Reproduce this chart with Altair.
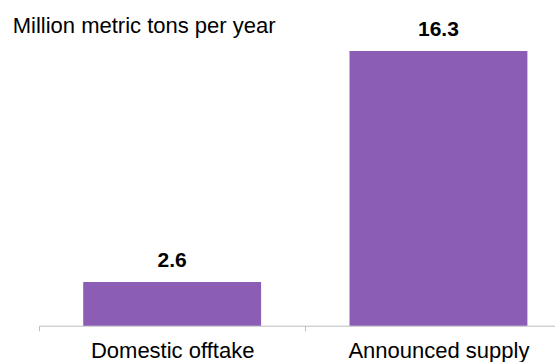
import altair as alt
import pandas as pd

# Chart data
categories = ["Domestic offtake", "Announced supply"]
values = [2.6, 16.3]
unit_label = "Million metric tons per year"

BAR_COLOR = "#8B5DB5"
AXIS_COLOR = "#BDBDBD"
FONT = "Liberation Sans"

df = pd.DataFrame({"category": categories, "value": values})

base = alt.Chart(df).encode(
    x=alt.X(
        "category:N",
        sort=categories,
        scale=alt.Scale(range=[0, 532.6], paddingInner=0, paddingOuter=0),
        axis=alt.Axis(
            title=None,
            labelFont=FONT,
            labelFontSize=22,
            labelColor="#000000",
            labelAngle=0,
            labelPadding=10,
            labelBaseline="top",
            labelLimit=0,
            domainColor=AXIS_COLOR,
            tickColor=AXIS_COLOR,
            tickSize=5,
            tickBand="extent",
            grid=False,
        ),
    ),
    y=alt.Y(
        "value:Q",
        scale=alt.Scale(domain=[0, 16.3], nice=False, zero=True),
        axis=None,
    ),
)

bars = base.mark_bar(color=BAR_COLOR, width=alt.RelativeBandSize(0.668))

labels = base.mark_text(
    font=FONT,
    fontSize=21,
    fontWeight="bold",
    color="#000000",
    baseline="alphabetic",
    dy=-15,
).encode(text=alt.Text("value:Q", format=".1f"))

unit = alt.Chart(pd.DataFrame({"t": [unit_label]})).mark_text(
    font=FONT,
    fontSize=22,
    color="#000000",
    align="left",
    baseline="alphabetic",
).encode(text="t:N", x=alt.value(-26.3), y=alt.value(-17.7))

chart = (
    alt.layer(bars, labels, unit)
    .properties(
        width=516,
        height=274.7,
        autosize=alt.AutoSizeParams(type="none"),
        padding={"left": 39, "top": 51, "right": 0, "bottom": 36.3},
        background="white",
    )
    .configure_view(stroke=None)
)

chart.save("out.html", embed_options={"renderer": "svg", "actions": False})
